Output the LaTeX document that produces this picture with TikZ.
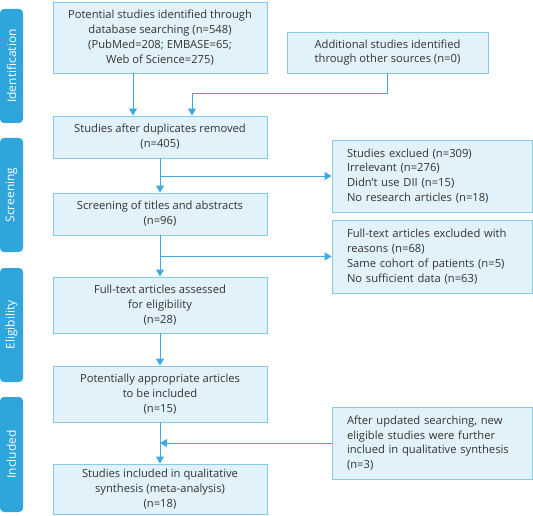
\documentclass[tikz,border=0pt]{standalone}
\usepackage{fontspec}
\setmainfont{Open Sans}
\usetikzlibrary{arrows.meta,calc}
\definecolor{boxfill}{HTML}{E2F2FA}
\definecolor{boxline}{HTML}{86CBEA}
\definecolor{arrowc}{HTML}{3EAADF}
\definecolor{phasec}{HTML}{2EA6DC}
\definecolor{txt}{HTML}{333333}
\begin{document}
\begin{tikzpicture}[x=1pt,y=-1pt,
  box/.style={draw=boxline,line width=0.9pt,fill=boxfill,text=txt,font=\fontsize{11.2}{14.8}\selectfont,align=center,inner sep=0pt},
  lbox/.style={box,align=left,text width=170pt,inner xsep=15pt,inner ysep=0pt},
  phase/.style={fill=phasec,rounded corners=4pt,minimum width=23pt,text=white,font=\fontsize{12}{13}\selectfont,inner sep=0pt},
  arr/.style={draw=arrowc,line width=0.9pt,-{Triangle[width=8pt,length=7pt]}},
  ln/.style={draw=arrowc,line width=0.9pt}]
\useasboundingbox (0,0) rectangle (533,516);
% phase labels
\node[phase,minimum height=114pt] (p1) at (11.5,66) {\rotatebox{90}{Identification}};
\node[phase,minimum height=114pt] (p2) at (11.5,195) {\rotatebox{90}{Screening}};
\node[phase,minimum height=114pt] (p3) at (11.5,325) {\rotatebox{90}{Eligibility}};
\node[phase,minimum height=115pt] (p4) at (11.5,454.5) {\rotatebox{90}{Included}};
% main column
\node[box,minimum width=214pt,minimum height=71pt] (b1) at (160,37.5) {Potential studies identified through\\database searching (n=548)\\(PubMed=208; EMBASE=65;\\Web of Science=275)};
\node[box,minimum width=201pt,minimum height=41pt] (add) at (387.5,52.5) {Additional studies identified\\through other sources (n=0)};
\node[box,minimum width=214pt,minimum height=42pt] (b2) at (160,137) {Studies after duplicates removed\\(n=405)};
\node[box,minimum width=214pt,minimum height=42pt] (b3) at (160,214) {Screening of titles and abstracts\\(n=96)};
\node[box,minimum width=214pt,minimum height=56pt] (b4) at (160,305) {Full-text articles assessed\\for eligibility\\(n=28)};
\node[box,minimum width=214pt,minimum height=56pt] (b5) at (160,394) {Potentially appropriate articles\\to be included\\(n=15)};
\node[box,minimum width=214pt,minimum height=50pt] (b6) at (160,489) {Studies included in qualitative\\synthesis (meta-analysis)\\(n=18)};
% right column
\node[lbox,minimum height=72pt] (e1) at (432,176) {Studies exclued (n=309)\\Irrelevant (n=276)\\Didn't use DII (n=15)\\No research articles (n=18)};
\node[lbox,minimum height=73pt] (e2) at (432,256.5) {Full-text articles excluded with\\reasons (n=68)\\Same cohort of patients (n=5)\\No sufficient data (n=63)};
\node[lbox,minimum height=72pt] (u) at (432,443) {After updated searching, new\\eligible studies were further\\inclued in qualitative synthesis\\(n=3)};
% connectors
\coordinate (xa) at (133,0);
\coordinate (xb) at (192,0);
\coordinate (jy) at (0,93);
\draw[arr] (b1.south -| xa) -- (b2.north -| xa);
\draw[ln] (add.south) -- (add.south |- jy) -- (jy -| xb);
\draw[arr] (jy -| xb) -- (b2.north -| xb);
\draw[arr] (b2) -- (b3);
\draw[arr] (b2.south |- e1.west) -- (e1.west);
\draw[arr] (b3) -- (b4);
\draw[arr] (b3.south |- e2.west) -- (e2.west);
\draw[arr] (b4) -- (b5);
\draw[arr] (b5) -- (b6);
\draw[arr] (u.west) -- (b5.south |- u.west);
\end{tikzpicture}
\end{document}
